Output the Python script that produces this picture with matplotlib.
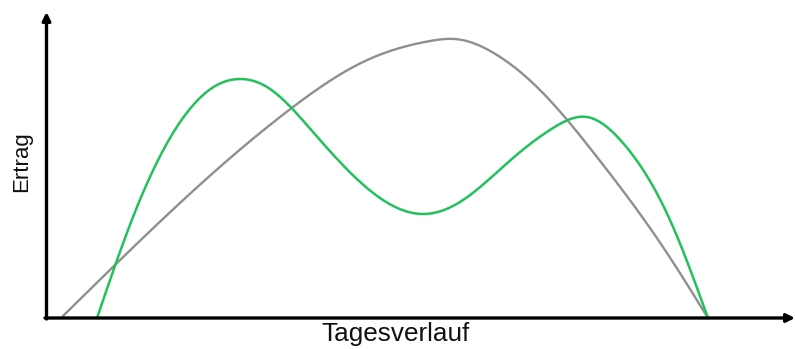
import numpy as np
import matplotlib
matplotlib.use("Agg")
import matplotlib.pyplot as plt

# Read-off points (x along the day, y = yield height above baseline)
gray_x = [63, 117, 213, 293, 363, 430, 455, 497, 540, 597, 663, 708]
gray_y = [2, 55, 145, 211, 256, 277, 279, 263, 228, 161, 71, 0]

green_x = [97, 133, 173, 217, 240, 267, 313, 380, 422, 460, 513, 553, 587, 623, 670, 708]
green_y = [0, 101, 185, 233, 239, 231, 186, 120, 104, 116, 160, 190, 201, 175, 98, 0]

x_label = "Tagesverlauf"
y_label = "Ertrag"


def natural_spline(xs, ys, n=600):
    x = np.asarray(xs, float)
    y = np.asarray(ys, float)
    k = len(x)
    h = np.diff(x)
    A = np.zeros((k, k))
    b = np.zeros(k)
    A[0, 0] = A[-1, -1] = 1
    for i in range(1, k - 1):
        A[i, i - 1] = h[i - 1]
        A[i, i] = 2 * (h[i - 1] + h[i])
        A[i, i + 1] = h[i]
        b[i] = 3 * ((y[i + 1] - y[i]) / h[i] - (y[i] - y[i - 1]) / h[i - 1])
    c = np.linalg.solve(A, b)
    bb = (y[1:] - y[:-1]) / h - h * (2 * c[:-1] + c[1:]) / 3
    d = (c[1:] - c[:-1]) / (3 * h)
    xx = np.linspace(x[0], x[-1], n)
    idx = np.clip(np.searchsorted(x, xx) - 1, 0, k - 2)
    dx = xx - x[idx]
    yy = y[idx] + bb[idx] * dx + c[idx] * dx ** 2 + d[idx] * dx ** 3
    return xx, yy


fig = plt.figure(figsize=(7.95, 3.49), dpi=100)
ax = fig.add_axes([0, 0, 1, 1])
ax.set_xlim(0, 795)
ax.set_ylim(-31, 318)
ax.axis("off")

gx, gy = natural_spline(gray_x, gray_y)
ax.plot(gx, gy, color="#8f8f8f", lw=1.7, solid_capstyle="round", zorder=2)
cx, cy = natural_spline(green_x, green_y)
ax.plot(cx, cy, color="#22c15c", lw=1.8, solid_capstyle="round", zorder=3)

ax.annotate("", xy=(795, 0), xytext=(45, 0),
            arrowprops=dict(arrowstyle="-|>", lw=2.4, color="black",
                            mutation_scale=12, shrinkA=0, shrinkB=0), zorder=4)
ax.annotate("", xy=(46.5, 306), xytext=(46.5, -1),
            arrowprops=dict(arrowstyle="-|>", lw=2.4, color="black",
                            mutation_scale=12, shrinkA=0, shrinkB=0), zorder=4)

ax.text(395, -23, x_label, ha="center", va="baseline", fontsize=18.8,
        family="Liberation Sans", color="#111111")
ax.text(22, 156, y_label, ha="center", va="center", rotation=90, fontsize=16,
        family="Liberation Sans", color="#111111")

fig.savefig("out.png", dpi=100, facecolor="white")
